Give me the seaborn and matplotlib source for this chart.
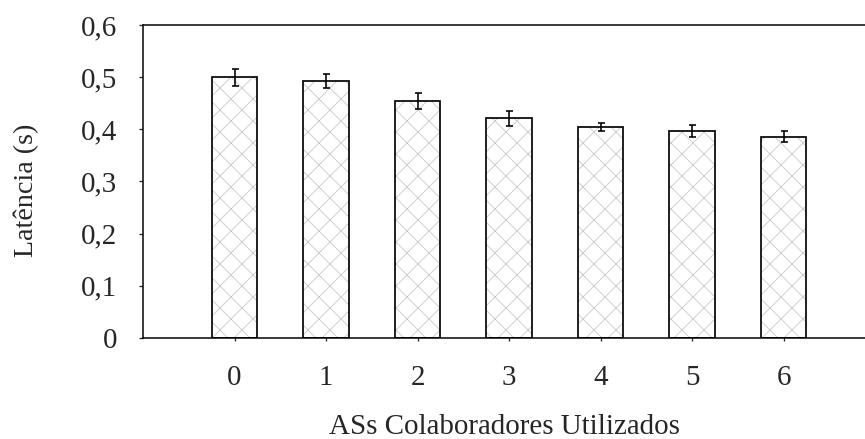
import numpy as np
import pandas as pd
import matplotlib
matplotlib.use('Agg')
import matplotlib.pyplot as plt
import seaborn as sns

# Latency per number of collaborating ASs
categories = ['0', '1', '2', '3', '4', '5', '6']
latency = [0.500, 0.493, 0.454, 0.421, 0.404, 0.397, 0.386]
latency_err = [0.016, 0.013, 0.015, 0.014, 0.008, 0.011, 0.011]
ytick_values = [0.0, 0.1, 0.2, 0.3, 0.4, 0.5, 0.6]
ytick_labels = ['0', '0,1', '0,2', '0,3', '0,4', '0,5', '0,6']

DPI = 66  # hatch cell size depends on dpi; 66 gives ~11px diamonds


def px(v):
    # pixel size -> points at this dpi
    return v * 72 / DPI


sns.set_style('white')
plt.rcParams['font.family'] = ['Liberation Serif', 'DejaVu Serif']
plt.rcParams['hatch.linewidth'] = px(0.9)

df = pd.DataFrame({'as': categories, 'lat': latency})

fig = plt.figure(figsize=(865 / DPI, 439 / DPI), dpi=DPI)
ax = fig.add_axes([143 / 865, 101 / 439, 732 / 865, 313 / 439])

# hatched fill (hatch takes the edge colour, so outline drawn separately)
sns.barplot(data=df, x='as', y='lat', order=categories, ax=ax, color='white',
            edgecolor='#cccccc', linewidth=0, hatch='x', width=0.5, errorbar=None)
sns.barplot(data=df, x='as', y='lat', order=categories, ax=ax, fill=False,
            edgecolor='black', linewidth=px(1.7), width=0.5, errorbar=None)

ax.errorbar(np.arange(len(categories)), latency, yerr=latency_err, fmt='none',
            ecolor='black', elinewidth=px(1.6), capsize=px(3.5), capthick=px(1.6))

ax.set_xlim(-1, 7)
ax.set_ylim(0, 0.6)
ax.set_yticks(ytick_values)
ax.set_yticklabels(ytick_labels)

for side in ['left', 'top', 'bottom']:
    ax.spines[side].set_visible(True)
    ax.spines[side].set_color('black')
    ax.spines[side].set_linewidth(px(1.5))
ax.spines['right'].set_visible(False)

ax.tick_params(axis='y', direction='out', length=px(4), width=px(1.3), pad=px(22),
               labelsize=px(29), left=True)
ax.tick_params(axis='x', direction='out', length=px(3), width=px(1.3), pad=px(24),
               labelsize=px(29), bottom=True)

ax.set_xlabel('ASs Colaboradores Utilizados', fontsize=px(29))
ax.set_ylabel('Latência (s)', fontsize=px(28))
ax.xaxis.set_label_coords(361 / 732, -76 / 313)
ax.yaxis.set_label_coords(-104 / 732, 148 / 313)

fig.savefig('out.png', dpi=DPI)
